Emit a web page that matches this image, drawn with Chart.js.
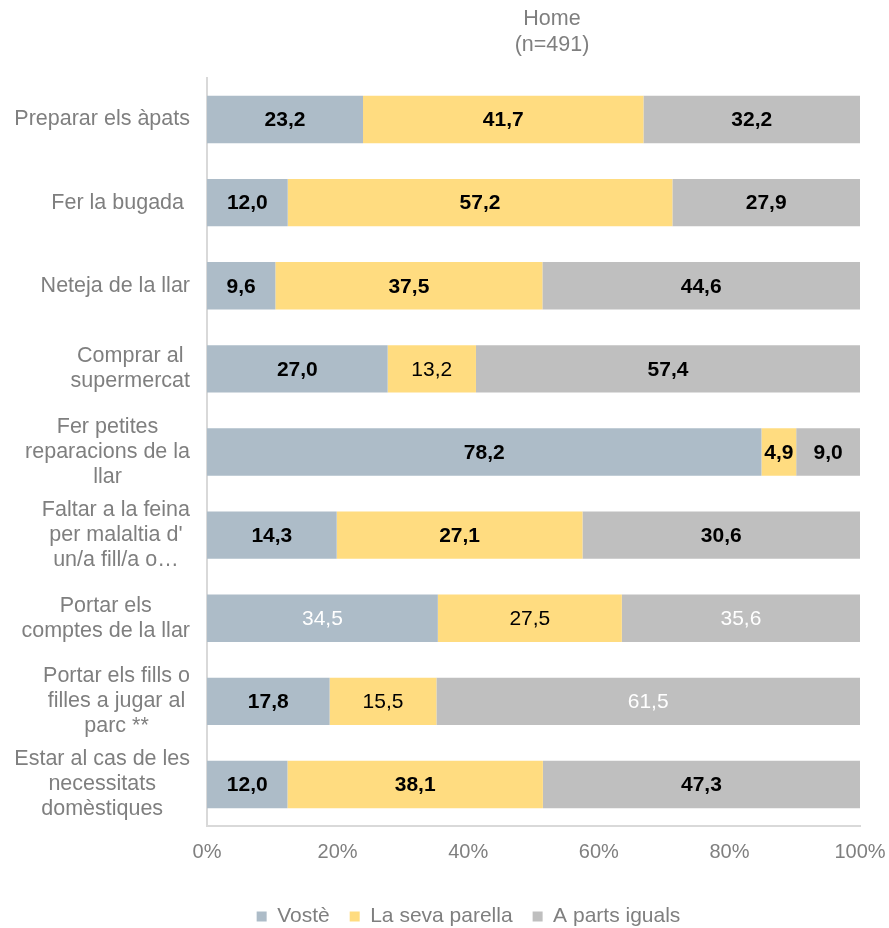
<!DOCTYPE html>
<html lang="ca">
<head>
    <meta charset="UTF-8">
    <title>Home (n=491)</title>
    <script src="https://cdn.jsdelivr.net/npm/chart.js"></script>
    <style>
        html, body { margin: 0; padding: 0; background: #fff; }
        .wrap { width: 889px; height: 928px; position: relative; }
    </style>
</head>
<body>
<div class="wrap"><canvas id="barChart"></canvas></div>
<script>
// data
const categories = [
    "Preparar els àpats",
    "Fer la bugada ",
    "Neteja de la llar",
    ["Comprar al", "supermercat"],
    ["Fer petites", "reparacions de la", "llar"],
    ["Faltar a la feina", "per malaltia d'", "un/a fill/a o…"],
    ["Portar els", "comptes de la llar"],
    ["Portar els fills o", "filles a jugar al", "parc **"],
    ["Estar al cas de les", "necessitats", "domèstiques"]
];
const seriesNames = ["Vostè", "La seva parella", "A parts iguals"];
const voste   = [23.2, 12.0, 9.6, 27.0, 78.2, 14.3, 34.5, 17.8, 12.0];
const parella = [41.7, 57.2, 37.5, 13.2, 4.9, 27.1, 27.5, 15.5, 38.1];
const iguals  = [32.2, 27.9, 44.6, 57.4, 9.0, 30.6, 35.6, 61.5, 47.3];
const xTicks = [0, 20, 40, 60, 80, 100];

const FONT = "'Liberation Sans', Arial, sans-serif";
const GREY_TEXT = '#7f7f7f';
const colors = ['#adbcc8', '#ffdc80', '#bfbfbf'];

// labels that are not bold black: [dataset, index, color]
const plainLabels = [[1, 3, '#000'], [0, 6, '#fff'], [1, 6, '#000'], [2, 6, '#fff'], [1, 7, '#000'], [2, 7, '#fff']];

// 100% stacked: each row is scaled to its own total
const raw = [voste, parella, iguals];
const totals = voste.map((v, i) => v + parella[i] + iguals[i]);

const datasets = raw.map((arr, k) => ({
    label: seriesNames[k],
    data: arr.map((v, i) => v / totals[i] * 100),
    rawValues: arr,
    backgroundColor: colors[k],
    borderWidth: 0,
    barPercentage: 1,
    categoryPercentage: 0.57
}));

// value labels inside the bars
const valueLabels = {
    id: 'valueLabels',
    afterDatasetsDraw(chart) {
        const ctx = chart.ctx;
        ctx.save();
        ctx.textAlign = 'center';
        ctx.textBaseline = 'middle';
        chart.data.datasets.forEach((ds, k) => {
            chart.getDatasetMeta(k).data.forEach((bar, i) => {
                let plain = plainLabels.find(p => p[0] === k && p[1] === i);
                ctx.font = (plain ? '' : 'bold ') + '21px ' + FONT;
                ctx.fillStyle = plain ? plain[2] : '#000';
                let txt = ds.rawValues[i].toFixed(1).replace('.', ',');
                ctx.fillText(txt, (bar.x + bar.base) / 2, bar.y + 1);
            });
        });
        ctx.restore();
    }
};

// category labels: block right aligned, lines centred inside the block
const categoryLabels = {
    id: 'categoryLabels',
    afterDraw(chart) {
        const ctx = chart.ctx;
        const yScale = chart.scales.y;
        const right = chart.chartArea.left - 17;
        const lineH = 25;
        ctx.save();
        ctx.font = '21.5px ' + FONT;
        ctx.fillStyle = GREY_TEXT;
        ctx.textAlign = 'center';
        ctx.textBaseline = 'middle';
        categories.forEach((lab, i) => {
            let lines = Array.isArray(lab) ? lab : [lab];
            let w = Math.max(...lines.map(l => ctx.measureText(l).width));
            let cx = right - w / 2;
            let cy = yScale.getPixelForValue(i);
            let y0 = cy - (lines.length - 1) * lineH / 2;
            lines.forEach((l, j) => ctx.fillText(l, cx, y0 + j * lineH));
        });
        ctx.restore();
    }
};

const topTitle = {
    id: 'topTitle',
    afterDraw(chart) {
        const ctx = chart.ctx;
        ctx.save();
        ctx.font = '21.5px ' + FONT;
        ctx.fillStyle = GREY_TEXT;
        ctx.textAlign = 'center';
        ctx.textBaseline = 'middle';
        ctx.fillText('Home', 552, 19);
        ctx.fillText('(n=491)', 552, 45);
        ctx.restore();
    }
};

const ctx = document.getElementById('barChart').getContext('2d');
const myChart = new Chart(ctx, {
    type: 'bar',
    data: { labels: categories, datasets: datasets },
    options: {
        indexAxis: 'y',
        responsive: true,
        maintainAspectRatio: false,
        animation: false,
        layout: { padding: { left: 48, right: 0, top: 78, bottom: -9 } },
        scales: {
            x: {
                stacked: true,
                min: 0,
                max: 100,
                afterBuildTicks: s => { s.ticks = xTicks.map(v => ({ value: v })); },
                afterFit: s => { s.height = 60; s.paddingRight = 29; },
                grid: { display: false, drawTicks: false },
                border: { display: true, color: '#d9d9d9', width: 2 },
                ticks: {
                    color: GREY_TEXT,
                    font: { family: FONT, size: 20 },
                    padding: 14,
                    maxRotation: 0,
                    callback: v => v + '%'
                }
            },
            y: {
                stacked: true,
                grid: { display: false, drawTicks: false },
                border: { display: true, color: '#d9d9d9', width: 2 },
                ticks: { display: false },
                afterFit: s => { s.width = 159; }
            }
        },
        plugins: {
            legend: {
                position: 'bottom',
                labels: {
                    color: GREY_TEXT,
                    font: { family: FONT, size: 21 },
                    boxWidth: 10,
                    boxHeight: 10,
                    padding: 20
                }
            },
            tooltip: { enabled: false },
            title: { display: false }
        }
    },
    plugins: [valueLabels, categoryLabels, topTitle]
});
</script>
</body>
</html>
